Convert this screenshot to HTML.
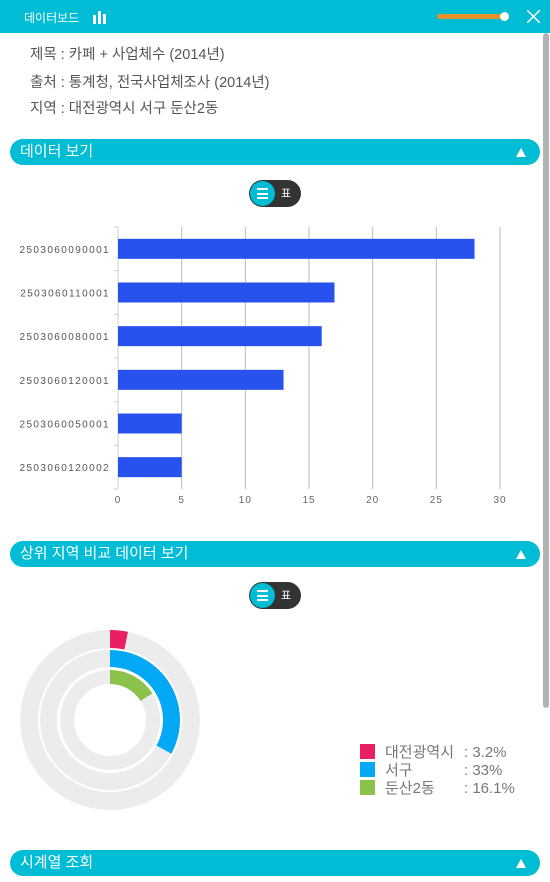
<!DOCTYPE html>
<html><head><meta charset="utf-8"><style>
*{margin:0;padding:0;box-sizing:border-box}
body{width:550px;height:882px;overflow:hidden;background:#fff;font-family:"Liberation Sans","Noto Sans CJK KR",sans-serif;position:relative}
.abs{position:absolute}
.sec{position:absolute;left:10px;width:530px;height:26px;border-radius:13px;background:#00bcd4;color:#fff;font-size:15px;line-height:26px;padding-left:10px}
.sec .tri{position:absolute;right:14px;top:9px;width:0;height:0;border-left:5px solid transparent;border-right:5px solid transparent;border-bottom:9px solid #fff}
.tog{position:absolute;left:249px;width:52px;height:27px;border-radius:14px;background:#333}
.tog .c{position:absolute;left:1px;top:1px;width:25px;height:25px;border-radius:50%;background:#00bcd4}
.tog .c i{position:absolute;left:7px;width:11px;height:2px;background:#fff}
.tog span{position:absolute;left:32px;top:5px;color:#fff;font-size:11px}
.info{position:absolute;left:30px;font-size:14.5px;color:#555}
</style></head><body>
<div class="abs" style="left:0;top:0;width:550px;height:33px;background:#00bcd4">
 <div class="abs" style="left:24px;top:9px;color:#fff;font-size:12px">데이터보드</div>
 <svg class="abs" style="left:93px;top:10px" width="14" height="14"><rect x="0" y="5" width="3" height="9" fill="#fff"/><rect x="5" y="1" width="3" height="13" fill="#fff"/><rect x="10" y="4" width="3" height="10" fill="#fff"/></svg>
 <div class="abs" style="left:437px;top:14px;width:68px;height:5px;border-radius:3px;background:#e8922a"></div>
 <div class="abs" style="left:500px;top:12px;width:9px;height:9px;border-radius:50%;background:#fff"></div>
 <svg class="abs" style="left:527px;top:10px" width="13" height="13"><path d="M0 0L13 13M13 0L0 13" stroke="#fff" stroke-width="1.5"/></svg>
</div>
<div class="abs" style="left:543px;top:33px;width:6px;height:675px;border-radius:3px;background:#b3b3b3"></div>
<div class="info" style="top:43px">제목 : 카페 + 사업체수 (2014년)</div>
<div class="info" style="top:71px">출처 : 통계청, 전국사업체조사 (2014년)</div>
<div class="info" style="top:97px">지역 : 대전광역시 서구 둔산2동</div>
<div class="sec" style="top:139px">데이터 보기<div class="tri"></div></div>
<div class="tog" style="top:180px"><div class="c"><i style="top:7px"></i><i style="top:11.5px"></i><i style="top:16px"></i></div><span>표</span></div>
<svg class="abs" id="bar" style="left:0;top:220px" width="540" height="295"></svg>
<div class="sec" style="top:541px">상위 지역 비교 데이터 보기<div class="tri"></div></div>
<div class="tog" style="top:582px"><div class="c"><i style="top:7px"></i><i style="top:11.5px"></i><i style="top:16px"></i></div><span>표</span></div>
<svg class="abs" id="donut" style="left:0;top:620px" width="550" height="200"></svg>
<div class="sec" style="top:850px">시계열 조회<div class="tri"></div></div>
<script>
const categories=["2503060090001","2503060110001","2503060080001","2503060120001","2503060050001","2503060120002"];
const values=[28,17,16,13,5,5];
const ticks=[0,5,10,15,20,25,30];
const ringLabels=["대전광역시","서구","둔산2동"];
const ringValues=[3.2,33,16.1];
const ringText=["3.2%","33%","16.1%"];
const NS="http://www.w3.org/2000/svg";
function mk(p,t,a){const e=document.createElementNS(NS,t);for(const k in a)e.setAttribute(k,a[k]);p.appendChild(e);return e;}
const bar=document.getElementById('bar');
const x0=118,ux=382/30,topY=7,bandH=262/categories.length;
const sx=v=>x0+v*ux;
ticks.forEach(t=>{if(t>0){const l=mk(bar,'line',{x1:sx(t),x2:sx(t),y1:topY,y2:topY+262,stroke:'#bbb','stroke-width':1});

}
const tx=mk(bar,'text',{x:sx(t),y:topY+276,'text-anchor':'middle','font-size':10,fill:'#666','letter-spacing':1});tx.textContent=t;

});
mk(bar,'line',{x1:x0,x2:x0,y1:topY,y2:topY+262,stroke:'#c5d0e0','stroke-width':1});
for(let i=0;i<=categories.length;i++)mk(bar,'line',{x1:x0-4,x2:x0,y1:topY+i*bandH,y2:topY+i*bandH,stroke:'#c5d0e0'});
categories.forEach((c,i)=>{const cy=topY+(i+0.5)*bandH;
const r=mk(bar,'rect',{x:x0,y:cy-10,width:sx(values[i])-x0,height:20,fill:'#2852ee'});


const t=mk(bar,'text',{x:110,y:cy+4,'text-anchor':'end','font-size':10,fill:'#555','letter-spacing':1.4});t.textContent=c;

});
const d=document.getElementById('donut');
const cx=110,cy=100;const radii=[[72,90],[53,70],[36,50]];const cols=['#e91e63','#03a9f4','#8bc34a'];
function arc(r0,r1,a){const a1=a*Math.PI*2;const p=(r,t)=>[cx+r*Math.sin(t),cy-r*Math.cos(t)];const lg=a>0.5?1:0;
const A=p(r1,0),B=p(r1,a1),C=p(r0,a1),D=p(r0,0);
return `M${A}A${r1},${r1} 0 ${lg} 1 ${B}L${C}A${r0},${r0} 0 ${lg} 0 ${D}Z`;}
radii.forEach((rr,i)=>{mk(d,'circle',{cx:cx,cy:cy,r:(rr[0]+rr[1])/2,fill:'none',stroke:'#ececec','stroke-width':rr[1]-rr[0]});
const p=mk(d,'path',{d:arc(rr[0],rr[1],ringValues[i]/100),fill:cols[i]});


const ly=124+i*18;
const sq=mk(d,'rect',{x:360,y:ly,width:15,height:15,fill:cols[i]});


const t1=mk(d,'text',{x:385,y:ly+13,'font-size':15,fill:'#777'});t1.textContent=ringLabels[i];


const t2=mk(d,'text',{x:464,y:ly+13,'font-size':15,fill:'#777'});t2.textContent=':  '+ringText[i];

});
</script>
</body></html>
